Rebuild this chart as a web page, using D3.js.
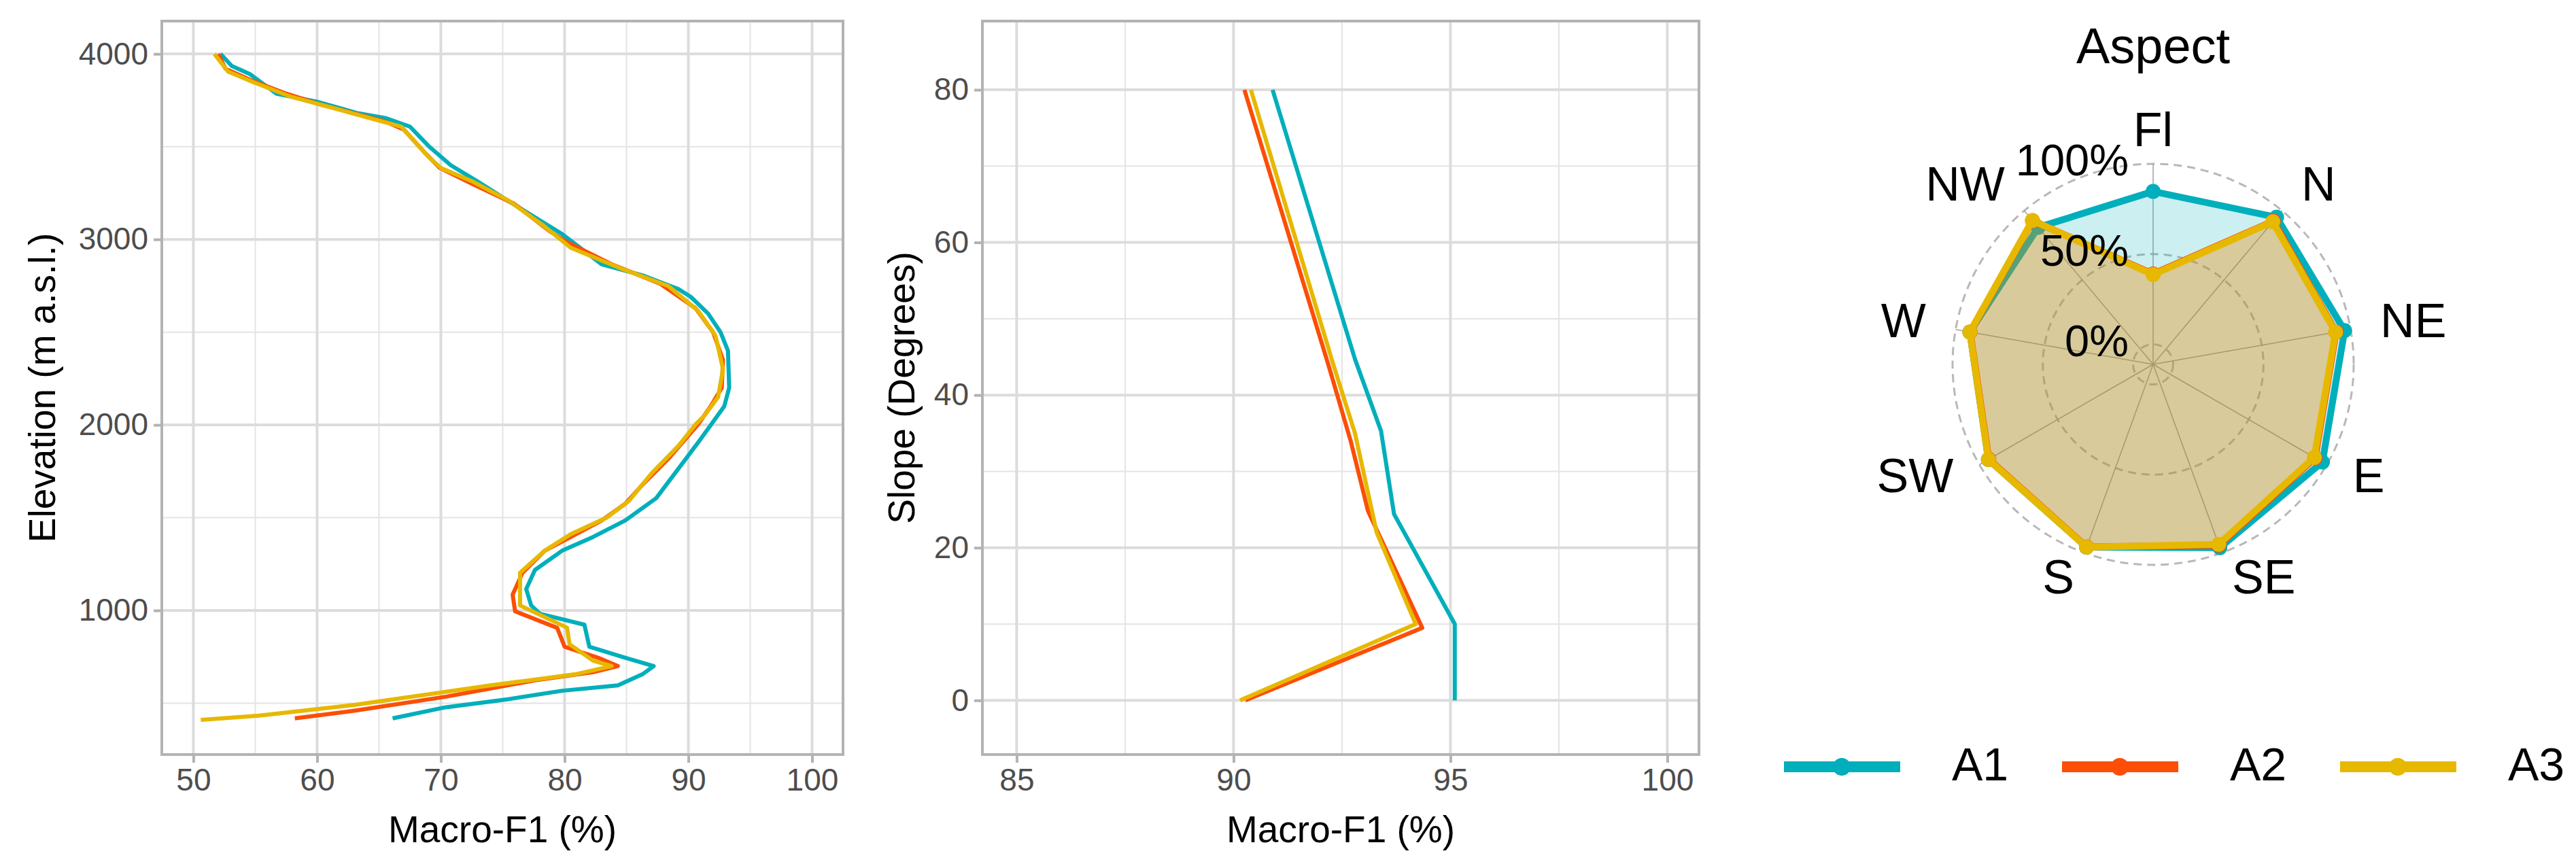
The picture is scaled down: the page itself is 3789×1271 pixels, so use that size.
<!DOCTYPE html>
<html lang="en">
<head>
<meta charset="UTF-8">
<title>Macro-F1 by terrain</title>
<style>
  body { margin: 0; background: #fff; }
  text { font-family: "Liberation Sans", Arial, sans-serif; }
  .tick text { fill: #4d4d4d; font-size: 46px; }
  .axis-title { font-size: 55px; fill: #000; }
</style>
</head>
<body>
<div id="chart"></div>
<script src="https://d3js.org/d3.v7.min.js"></script>
<script>
const series = ["A1", "A2", "A3"];
const colors = ["#00AFBB", "#FC4E07", "#E7B800"];

// Elevation panel: [macroF1, elevation]
const elevA1 = [[52.2,4000],[53.1,3935],[54.6,3890],[56.7,3786],[60,3742],[63.2,3682],[65.6,3653],[67.5,3608],[69,3504],[70.8,3400],[73,3311],[75.1,3222],[76.9,3148],[79.8,3029],[83,2866],[86.3,2806],[89.2,2732],[90.2,2690],[91.6,2600],[92.6,2500],[93.2,2400],[93.3,2200],[92.9,2100],[90.9,1915],[87.4,1605],[84.9,1485],[82.3,1396],[79.8,1322],[77.6,1218],[76.9,1115],[77.3,1027],[78,982],[81.6,923],[82,804],[84.9,745],[87.2,700],[86.3,656],[84.3,596],[79.8,567],[75.5,522],[70.4,478],[66.1,418]];
const elevA2 = [[52,4000],[52.6,3920],[54.6,3860],[57.5,3786],[60.3,3727],[65.4,3638],[67,3593],[68.6,3475],[69.9,3386],[72.6,3297],[75.9,3193],[78.8,3044],[80.2,2985],[83.8,2866],[87.7,2762],[90.6,2628],[92,2500],[92.8,2350],[92.7,2200],[91.8,2100],[90.8,2004],[88.5,1826],[86.3,1678],[84.9,1575],[83,1485],[80.5,1396],[78.4,1322],[76.6,1203],[75.8,1085],[76,995],[79.4,906],[80,804],[82.7,745],[84.3,700],[82.3,667],[77.6,623],[70.4,535],[63.2,461],[58.2,418]];
const elevA3 = [[51.7,4000],[52.8,3905],[54.9,3846],[57.8,3771],[61.1,3712],[66.8,3608],[69,3445],[70,3385],[72.6,3311],[75.5,3208],[78.3,3074],[80.5,2955],[84.8,2837],[88.4,2748],[90.8,2614],[92.2,2480],[92.8,2300],[92.4,2150],[91.3,2050],[90.6,2004],[89.2,1887],[87,1737],[85.2,1590],[83.4,1500],[80.5,1411],[78.4,1322],[76.4,1203],[76.4,1027],[80.2,907],[80.4,818],[82.3,729],[83.8,700],[80.9,656],[74,596],[63.2,492],[55.3,433],[50.6,410]];

// Slope panel: [macroF1, slope]
const slopeA1 = [[95.1,0],[95.1,10],[93.7,24.4],[93.4,35.3],[92.8,44.7],[90.9,80]];
const slopeA2 = [[90.27,0],[94.35,9.5],[93.1,24.8],[92.7,34],[92.2,43.7],[90.25,80]];
const slopeA3 = [[90.15,0],[94.2,10],[93.3,22],[92.8,35],[92.3,44],[90.4,80]];

const elevXTicks = [50, 60, 70, 80, 90, 100];
const elevYTicks = [1000, 2000, 3000, 4000];
const slopeXTicks = [85, 90, 95, 100];
const slopeYTicks = [0, 20, 40, 60, 80];

// Aspect radar
const aspects = ["Fl", "N", "NE", "E", "SE", "S", "SW", "W", "NW"];
const aspectA1 = [0.847, 0.953, 0.966, 0.972, 0.97, 0.967, 0.943, 0.92, 0.88];
const aspectA2 = [0.39, 0.925, 0.918, 0.925, 0.955, 0.965, 0.94, 0.918, 0.928];
const aspectA3 = [0.386, 0.92, 0.915, 0.92, 0.95, 0.967, 0.943, 0.92, 0.93];
const radarLevels = [0, 0.5, 1];
const radarLevelLabels = ["0%", "50%", "100%"];

const W = 3789, H = 1271;
const svg = d3.select("#chart").append("svg").attr("width", W).attr("height", H);

function panel(box, xDom, yDom, xTicks, yTicks, xMinor, yMinor, data, xTitle, yTitle, yTitleX) {
  const x = d3.scaleLinear().domain(xDom).range([box.l, box.r]);
  const y = d3.scaleLinear().domain(yDom).range([box.b, box.t]);
  const g = svg.append("g");
  const grid = g.append("g");
  xMinor.forEach(v => grid.append("line").attr("x1", x(v)).attr("x2", x(v)).attr("y1", box.t).attr("y2", box.b)
    .attr("stroke", "#e4e4e4").attr("stroke-width", 2));
  yMinor.forEach(v => grid.append("line").attr("y1", y(v)).attr("y2", y(v)).attr("x1", box.l).attr("x2", box.r)
    .attr("stroke", "#e4e4e4").attr("stroke-width", 2));
  xTicks.forEach(v => grid.append("line").attr("x1", x(v)).attr("x2", x(v)).attr("y1", box.t).attr("y2", box.b)
    .attr("stroke", "#dcdcdc").attr("stroke-width", 4));
  yTicks.forEach(v => grid.append("line").attr("y1", y(v)).attr("y2", y(v)).attr("x1", box.l).attr("x2", box.r)
    .attr("stroke", "#dcdcdc").attr("stroke-width", 4));

  const line = d3.line().x(d => x(d[0])).y(d => y(d[1]));
  data.forEach((s, i) => g.append("path").attr("d", line(s)).attr("fill", "none")
    .attr("stroke", colors[i]).attr("stroke-width", 6).attr("stroke-linejoin", "round"));

  g.append("rect").attr("x", box.l).attr("y", box.t).attr("width", box.r - box.l).attr("height", box.b - box.t)
    .attr("fill", "none").attr("stroke", "#b3b3b3").attr("stroke-width", 4);

  const xa = g.append("g").attr("transform", `translate(0,${box.b})`)
    .call(d3.axisBottom(x).tickValues(xTicks).tickSize(12).tickPadding(8).tickFormat(d3.format("d")));
  const ya = g.append("g").attr("transform", `translate(${box.l},0)`)
    .call(d3.axisLeft(y).tickValues(yTicks).tickSize(12).tickPadding(8).tickFormat(d3.format("d")));
  [xa, ya].forEach(a => {
    a.select(".domain").remove();
    a.selectAll(".tick line").attr("stroke", "#b3b3b3").attr("stroke-width", 4);
    a.selectAll(".tick text").attr("font-size", null);
  });
  g.append("text").attr("class", "axis-title").attr("x", (box.l + box.r) / 2).attr("y", 1224)
    .attr("text-anchor", "middle").attr("dominant-baseline", "middle").text(xTitle);
  g.append("text").attr("class", "axis-title")
    .attr("transform", `translate(${yTitleX},${(box.t + box.b) / 2}) rotate(-90)`)
    .attr("text-anchor", "middle").attr("dominant-baseline", "middle").text(yTitle);
}

panel({l: 238, r: 1240, t: 31, b: 1110}, [47.45, 102.5], [223, 4177],
  elevXTicks, elevYTicks, [55, 65, 75, 85, 95], [500, 1500, 2500, 3500],
  [elevA1, elevA2, elevA3], "Macro-F1 (%)", "Elevation (m a.s.l.)", 66);
panel({l: 1445, r: 2499, t: 31, b: 1110}, [84.21, 100.73], [-7.1, 89],
  slopeXTicks, slopeYTicks, [87.5, 92.5, 97.5], [10, 30, 50, 70],
  [slopeA1, slopeA2, slopeA3], "Macro-F1 (%)", "Slope (Degrees)", 1330);

// Radar
const cx = 3167, cy = 536, R = 295;
const r = d3.scaleLinear().domain([-1 / 9, 1]).range([0, R]);
const ang = d3.scaleLinear().domain([0, aspects.length]).range([0, 2 * Math.PI]);
const rg = svg.append("g").attr("transform", `translate(${cx},${cy})`);

radarLevels.forEach(v => rg.append("circle").attr("r", r(v)).attr("fill", "none")
  .attr("stroke", "#b8b8b8").attr("stroke-width", 3).attr("stroke-dasharray", "12,8"));
aspects.forEach((a, i) => rg.append("line").attr("x1", 0).attr("y1", 0)
  .attr("x2", r(1) * Math.sin(ang(i))).attr("y2", -r(1) * Math.cos(ang(i)))
  .attr("stroke", "#a0a0a0").attr("stroke-width", 1.5));

const radarData = [aspectA1, aspectA2, aspectA3];
const pt = (v, i) => [r(v) * Math.sin(ang(i)), -r(v) * Math.cos(ang(i))];
const radarLine = d3.line().curve(d3.curveLinearClosed);
radarData.forEach((vals, k) => {
  const pts = vals.map(pt);
  rg.append("path").attr("d", radarLine(pts)).attr("fill", colors[k]).attr("fill-opacity", 0.2)
    .attr("stroke", colors[k]).attr("stroke-width", 10).attr("stroke-linejoin", "round");
  pts.forEach(p => rg.append("circle").attr("cx", p[0]).attr("cy", p[1]).attr("r", 11).attr("fill", colors[k]));
});

radarLevels.forEach((v, i) => rg.append("text").attr("x", -36).attr("y", -r(v))
  .attr("text-anchor", "end").attr("dominant-baseline", "middle").attr("font-size", 65).text(radarLevelLabels[i]));

aspects.forEach((a, i) => {
  const s = Math.sin(ang(i)), c = Math.cos(ang(i));
  const lr = r(1) * 1.15;
  const anchor = Math.abs(s) < 0.01 ? "middle" : (s > 0 ? "start" : "end");
  rg.append("text").attr("x", lr * s).attr("y", -lr * c).attr("text-anchor", anchor)
    .attr("dominant-baseline", "middle").attr("font-size", 70).text(a);
});

svg.append("text").attr("x", cx).attr("y", 73).attr("text-anchor", "middle")
  .attr("dominant-baseline", "middle").attr("font-size", 74).text("Aspect");

// Legend
const legX = [2624, 3033, 3442];
const lg = svg.append("g");
series.forEach((s, i) => {
  lg.append("line").attr("x1", legX[i]).attr("x2", legX[i] + 171).attr("y1", 1128).attr("y2", 1128)
    .attr("stroke", colors[i]).attr("stroke-width", 16);
  lg.append("circle").attr("cx", legX[i] + 85).attr("cy", 1128).attr("r", 13).attr("fill", colors[i]);
  lg.append("text").attr("x", legX[i] + 247).attr("y", 1130).attr("dominant-baseline", "middle")
    .attr("font-size", 68).text(s);
});
</script>
</body>
</html>
